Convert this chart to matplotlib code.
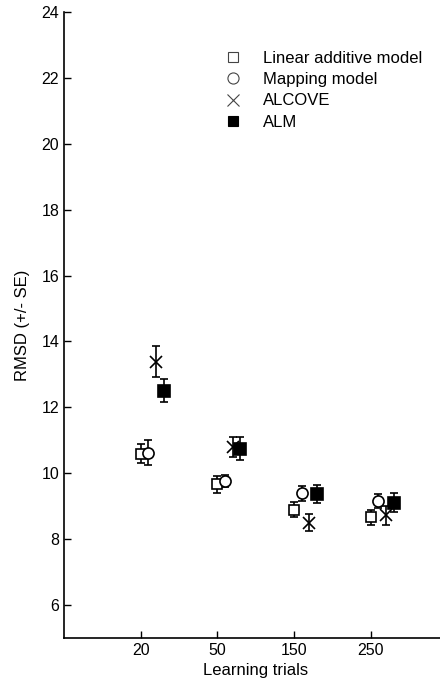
import numpy as np
import matplotlib.pyplot as plt
from matplotlib.lines import Line2D

plt.rcParams['font.family'] = ['Liberation Sans', 'DejaVu Sans']

trials = ['20', '50', '150', '250']
models = ['Linear additive model', 'Mapping model', 'ALCOVE', 'ALM']

linear = [10.6, 9.66, 8.9, 8.66]
linear_se = [0.28, 0.25, 0.23, 0.23]
mapping = [10.63, 9.76, 9.39, 9.16]
mapping_se = [0.38, 0.19, 0.22, 0.21]
alcove = [13.38, 10.8, 8.5, 8.73]
alcove_se = [0.47, 0.31, 0.26, 0.29]
alm = [12.5, 10.75, 9.37, 9.1]
alm_se = [0.35, 0.34, 0.28, 0.29]

fig = plt.figure(figsize=(4.4, 6.92), dpi=100)
ax = fig.add_axes([0.1455, 0.078, 0.8716, 0.9047])

x = np.arange(1, len(trials) + 1)
series = [
    (linear, linear_se, 's', 'white', 0.0, 7),
    (mapping, mapping_se, 'o', 'white', 0.1, 8),
    (alcove, alcove_se, 'x', 'black', 0.2, 9),
    (alm, alm_se, 's', 'black', 0.3, 8),
]
for vals, se, m, fc, off, ms in series:
    ax.errorbar(x + off, vals, yerr=se, fmt=m, mfc=fc, mec='black', ms=ms,
                mew=1.2, ecolor='black', elinewidth=1.2, capsize=3, capthick=1.2,
                zorder=3)

# legend shows plain markers, no error bars
handles = [
    Line2D([], [], ls='none', marker='s', mfc='white', mec='#444444', ms=7, mew=0.8),
    Line2D([], [], ls='none', marker='o', mfc='white', mec='#444444', ms=8, mew=0.8),
    Line2D([], [], ls='none', marker='x', mec='#444444', ms=8, mew=0.8),
    Line2D([], [], ls='none', marker='s', mfc='black', mec='black', ms=7, mew=0.8),
]
ax.legend(handles, models, loc='upper left', bbox_to_anchor=(0.37, 0.962),
          frameon=False, fontsize=12, handletextpad=1.0, labelspacing=0.38,
          handlelength=1.5)

ax.set_xlim(0, 5)
ax.set_ylim(5, 24)
ax.set_xticks(x)
ax.set_xticklabels(trials)
ax.set_yticks(np.arange(6, 25, 2))
ax.tick_params(direction='in', length=5, width=1, labelsize=11.5)
ax.spines['top'].set_visible(False)
ax.spines['right'].set_visible(False)
for s in ['left', 'bottom']:
    ax.spines[s].set_linewidth(1.2)
ax.set_xlabel('Learning trials', fontsize=12)
ax.set_ylabel('RMSD (+/- SE)', fontsize=12, labelpad=8)

fig.savefig('out.png', dpi=100)
